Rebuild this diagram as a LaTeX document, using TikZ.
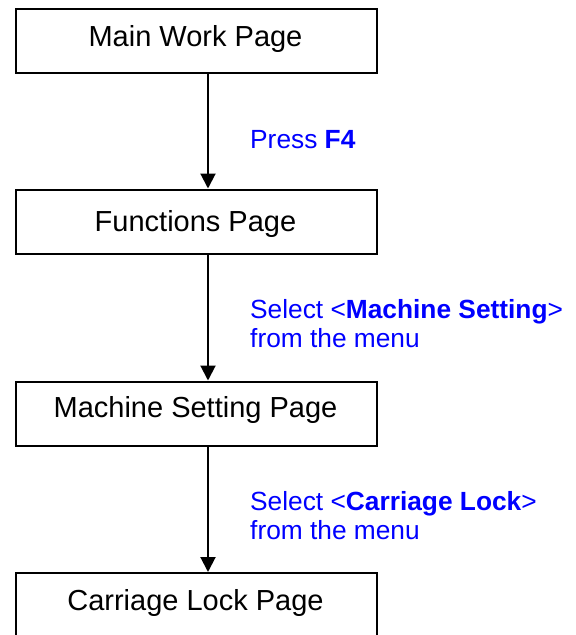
\documentclass[tikz,border=0pt]{standalone}
\usepackage{fontspec}
\setmainfont{Liberation Sans}
\usetikzlibrary{arrows.meta}
\definecolor{labelblue}{RGB}{0,0,255}
\tikzset{
  pagebox/.style={draw, line width=2pt, minimum width=361pt, minimum height=64pt,
    inner sep=0pt, anchor=north west},
  boxtext/.style={anchor=base, font=\fontsize{29}{34}\selectfont, inner sep=0pt},
  steplabel/.style={anchor=base west, font=\fontsize{26.3}{29}\selectfont,
    text=labelblue, inner sep=0pt, align=left},
  flow/.style={line width=2pt, -{Triangle[width=15pt,length=15pt]}}
}
\begin{document}
\begin{tikzpicture}[x=1pt,y=-1pt]
  \useasboundingbox (0,0) rectangle (576,635);
  % page boxes
  \node[pagebox] (b1) at (15,8) {};
  \node[pagebox] (b2) at (15,188.5) {};
  \node[pagebox] (b3) at (15,380.5) {};
  \node[pagebox] (b4) at (15,572) {};
  % box captions
  \node[boxtext] (t1) at (195.5,46.5) {Main Work Page};
  \node[boxtext] (t2) at (195.5,231) {Functions Page};
  \node[boxtext] (t3) at (195.5,417) {Machine Setting Page};
  \node[boxtext] (t4) at (195.5,610) {Carriage Lock Page};
  % vertical line of the arrows
  \coordinate (ax) at (208,0);
  \draw[flow] (b1.south -| ax) -- (b2.north -| ax);
  \draw[flow] (b2.south -| ax) -- (b3.north -| ax);
  \draw[flow] (b3.south -| ax) -- (b4.north -| ax);
  % step instructions
  \node[steplabel] (l1) at (250,148) {Press \textbf{F4}};
  \node[steplabel] (l2a) at (250,318) {Select <\textbf{Machine Setting}>};
  \node[steplabel] (l2b) at (250,347) {from the menu};
  \node[steplabel] (l3a) at (250,510) {Select <\textbf{Carriage Lock}>};
  \node[steplabel] (l3b) at (250,539) {from the menu};
\end{tikzpicture}
\end{document}
